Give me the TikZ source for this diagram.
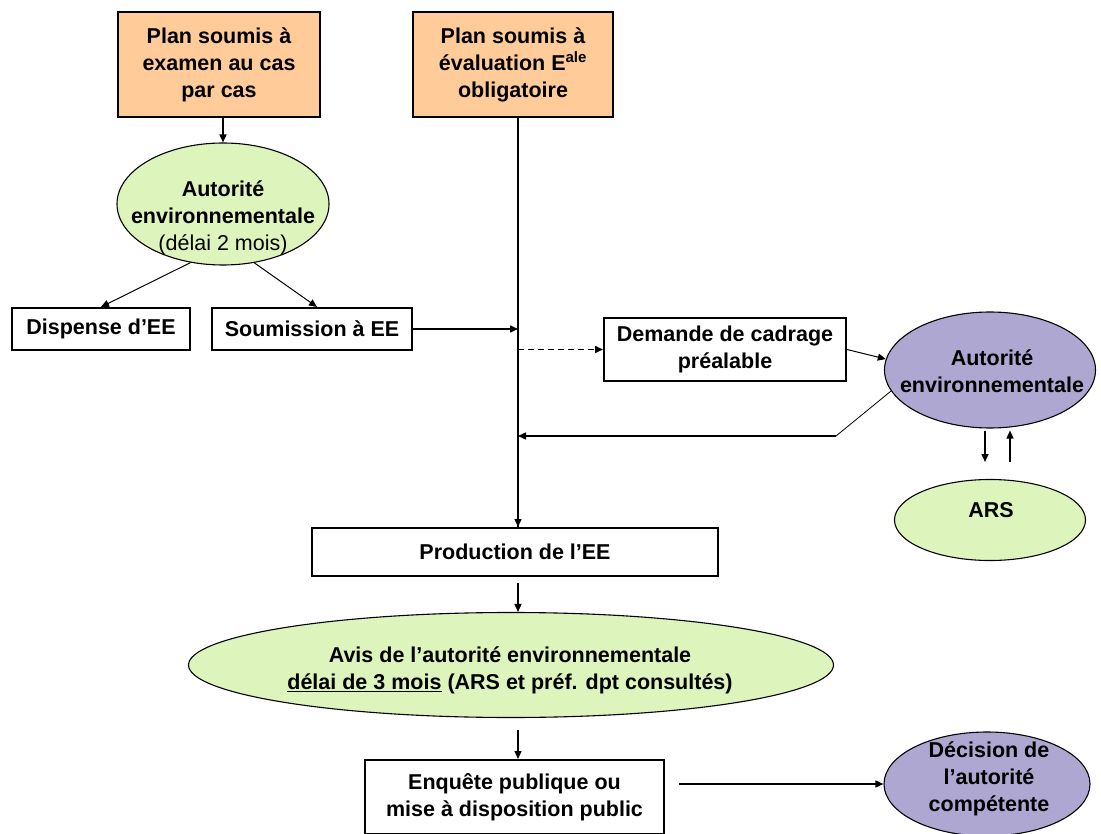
\documentclass[tikz,border=0pt]{standalone}
\usepackage{fontspec}
\setmainfont{Liberation Sans}
\usepackage{tikz}
\usetikzlibrary{shapes.geometric,arrows.meta}

\definecolor{planorange}{RGB}{255,204,153}
\definecolor{aegreen}{RGB}{221,244,188}
\definecolor{aepurple}{RGB}{173,167,210}
\newcommand{\fs}{\fontsize{21.5}{27}\selectfont}

\tikzset{
  box/.style={draw,line width=2pt,fill=white,align=center,font=\bfseries\fs,inner sep=0pt},
  plan/.style={box,fill=planorange,minimum height=105pt},
  ell/.style={ellipse,draw,line width=1.1pt,inner sep=0pt},
  txt/.style={align=center,font=\bfseries\fs,inner sep=0pt},
  arr/.style={-{Triangle[length=8pt,width=7pt]},line width=1.5pt},
}

\begin{document}
\begin{tikzpicture}[x=1pt,y=-1pt]
    \useasboundingbox (0,0) rectangle (1101,834);
    % top of the two branches
    \node[plan,minimum width=202pt] (examen) at (219,64.5) {Plan soumis à\\examen au cas\\par cas};
    \node[plan,minimum width=200pt] (evaluation) at (513,64.5)
      {Plan soumis à\\évaluation E\textsuperscript{ale}\\obligatoire};
    \node[ell,fill=aegreen,minimum width=212pt,minimum height=122pt] (ae1) at (223,204) {};
    \node[txt] (ae1txt) at (223,218) {Autorité\\environnementale\\{\mdseries(délai 2 mois)}};
    \node[box,minimum width=178pt,minimum height=42pt] (dispense) at (101,329) {Dispense d’EE};
    \node[box,minimum width=200pt,minimum height=42pt] (soumission) at (312,329) {Soumission à EE};
    % cadrage
    \node[box,minimum width=242pt,minimum height=63pt] (demande) at (725,349.5) {Demande de cadrage\\préalable};
    \node[ell,fill=aepurple,minimum width=211pt,minimum height=116pt] (ae2) at (990,370) {};
    \node[txt] (ae2txt) at (992,371.5) {Autorité\\environnementale};
    \node[ell,fill=aegreen,minimum width=191pt,minimum height=81pt] (ars) at (990,520) {};
    \node[txt] (arstxt) at (991,510) {ARS};
    % lower part
    \node[box,minimum width=406pt,minimum height=48pt] (production) at (515,552) {Production de l’EE};
    \node[ell,fill=aegreen,minimum width=645pt,minimum height=105pt] (avis) at (511,665) {};
    \node[txt] (avistxt) at (510,670)
      {Avis de l’autorité environnementale\\\underline{délai de 3 mois} (ARS et préf. dpt consultés)};
    \node[box,minimum width=299pt,minimum height=74pt] (enquete) at (514.5,797)
      {Enquête publique ou\\mise à disposition public};
    \node[ell,fill=aepurple,minimum width=206pt,minimum height=104pt] (decision) at (987,784) {};
    \node[txt] (decisiontxt) at (989,779) {Décision de\\l’autorité\\compétente};
    % connectors
    \coordinate (trunk) at (518,117);
    \coordinate (bend) at (836,436);
    \coordinate (arsdn) at (985,462);
    \coordinate (arsup) at (1010,462);
    \draw[arr] (examen.south -| ae1.north) -- (ae1.north);
    \draw[arr,line width=1pt] (ae1.241) -- (dispense.north);
    \draw[arr,line width=1pt] (ae1.298) -- ([xshift=5pt]soumission.north);
    \draw[line width=1.5pt] (trunk) -- (trunk |- production.north);
    \draw[arr] (trunk |- production.north) ++(0,-1) -- (trunk |- production.north);
    \draw[arr] (soumission.east) -- (soumission.east -| trunk);
    \draw[arr,dash pattern=on 6pt off 4pt] (demande.west -| trunk) -- (demande.west);
    \draw[arr,line width=1pt] (demande.east) -- (ae2.174);
    \draw[line width=0.8pt] (ae2.192) -- (bend);
    \draw[arr] (bend) -- (bend -| trunk);
    \draw[arr] (ae2.south -| arsdn) ++(0,2) -- (arsdn);
    \draw[arr] (arsup) -- ([yshift=-2pt]ae2.south -| arsup);
    \draw[arr] ([yshift=-6pt]production.south -| trunk) -- (trunk |- avis.north);
    \draw[arr] ([yshift=-12pt]avis.south -| trunk) -- (trunk |- enquete.north);
    \draw[arr] ([xshift=14pt]enquete.east |- decision.west) -- (decision.west);
\end{tikzpicture}
\end{document}
